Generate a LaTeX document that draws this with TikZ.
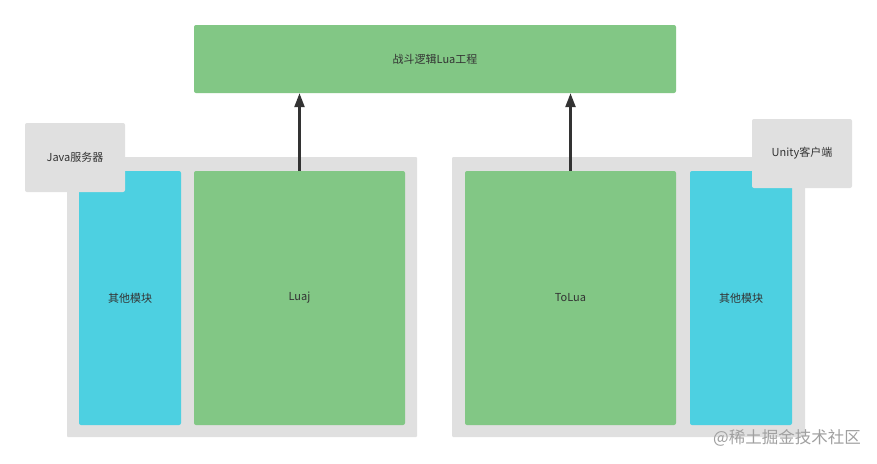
\documentclass[tikz,border=0pt]{standalone}
\usepackage{fontspec}
\setmainfont{Noto Sans CJK SC}
\usetikzlibrary{arrows.meta}
\definecolor{luagreen}{HTML}{82C785}
\definecolor{modcyan}{HTML}{4DD0E1}
\definecolor{boxgray}{HTML}{E0E0E0}
\definecolor{textgray}{HTML}{333333}
\definecolor{markgray}{HTML}{A0A0A0}
\tikzset{block/.style={rounded corners=2pt,inner sep=0pt,text=textgray,font=\fontsize{11}{13}\selectfont},
         luabox/.style={block,fill=luagreen},
         modbox/.style={block,fill=modcyan},
         hostbox/.style={block,fill=boxgray},
         callarrow/.style={-{Triangle[length=14pt,width=10pt]},line width=2.4pt,draw=textgray}}

\begin{document}
\begin{tikzpicture}[x=1pt,y=-1pt]
  \useasboundingbox[fill=white] (0,0) rectangle (877,463);
  % top project
  \node[luabox,minimum width=482pt,minimum height=68pt] (battle) at (435,59) {战斗逻辑Lua工程};
  % left host
  \node[hostbox,rounded corners=1pt,minimum width=350pt,minimum height=280pt] (javahost) at (242,297) {};
  \node[modbox,minimum width=102pt,minimum height=254pt] (javamod) at (130,298) {其他模块};
  \node[luabox,minimum width=211pt,minimum height=254pt] (luaj) at (299.5,298) {Luaj};
  \node[hostbox,minimum width=100pt,minimum height=69pt] (javalabel) at (75,157.5) {Java服务器};
  % right host
  \node[hostbox,rounded corners=1pt,minimum width=353pt,minimum height=280pt] (unityhost) at (628.5,297) {};
  \node[luabox,minimum width=211pt,minimum height=254pt] (tolua) at (570.5,298) {ToLua};
  \node[modbox,minimum width=102pt,minimum height=254pt] (unitymod) at (741,298) {其他模块};
  \node[hostbox,minimum width=100pt,minimum height=69pt] (unitylabel) at (802,153.5) {Unity客户端};
  % arrows
  \draw[callarrow] (luaj.north) -- (luaj.north |- battle.south);
  \draw[callarrow] (tolua.north) -- (tolua.north |- battle.south);
  % watermark
  \node[text=markgray,font=\fontsize{16.5}{18}\selectfont,anchor=east,inner sep=0pt] (mark) at (861,438) {@稀土掘金技术社区};
\end{tikzpicture}
\end{document}
